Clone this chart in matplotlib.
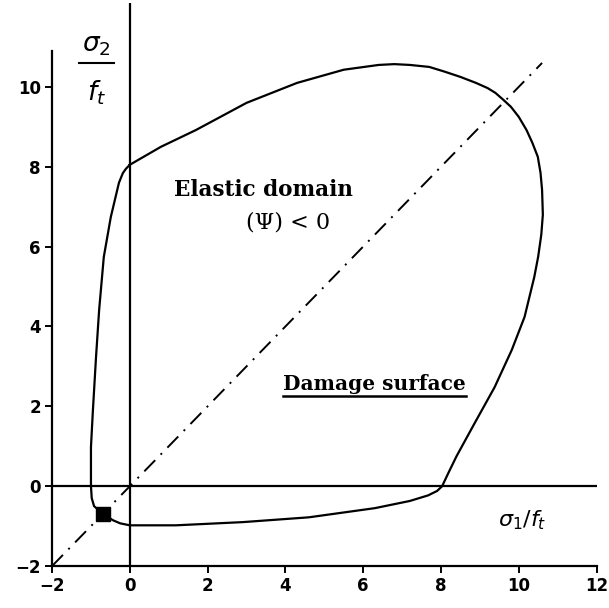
import matplotlib
matplotlib.use("Agg")
import matplotlib.pyplot as plt
import numpy as np

# damage surface (sigma1/ft, sigma2/ft), clockwise from (0, 8)
surf_x = [0.0, 0.8, 1.7, 3.0, 4.3, 5.5, 6.4, 6.8, 7.2, 7.7, 8.1, 8.5, 8.9, 9.2, 9.4,
          9.6, 9.8, 10.0, 10.2, 10.35, 10.49, 10.56, 10.6, 10.62, 10.58, 10.5,
          10.4, 10.15, 9.82, 9.38, 8.85, 8.4, 8.2, 8.03, 7.9, 7.67, 7.2, 6.3, 4.6,
          2.9, 1.18, 0.0, -0.25, -0.44, -0.69, -0.8, -0.92, -0.98, -1.0, -1.0,
          -0.95, -0.87, -0.79, -0.67, -0.49, -0.28, -0.18, -0.1, 0.0]
surf_y = [8.05, 8.5, 8.92, 9.6, 10.1, 10.43, 10.55, 10.57, 10.55, 10.5, 10.38, 10.25,
          10.1, 9.97, 9.85, 9.68, 9.5, 9.25, 8.92, 8.6, 8.25, 7.85, 7.42, 6.8, 6.3,
          5.75, 5.24, 4.24, 3.41, 2.48, 1.55, 0.75, 0.35, 0.0, -0.12, -0.23, -0.37,
          -0.55, -0.78, -0.9, -0.98, -0.98, -0.93, -0.85, -0.69, -0.6, -0.5, -0.3,
          0.0, 0.98, 1.9, 3.23, 4.41, 5.74, 6.74, 7.6, 7.84, 7.95, 8.05]

diag = [-2.0, 10.6]           # dash-dot line sigma1 = sigma2
point = (-0.7, -0.7)          # black square
xticks = [-2, 0, 2, 4, 6, 8, 10, 12]
yticks = [-2, 0, 2, 4, 6, 8, 10]

fig = plt.figure(figsize=(6.09, 6.08), dpi=100)
ax = fig.add_axes([0.0855, 0.069, 0.894, 0.926])

ax.plot(surf_x, surf_y, color='black', lw=1.6, solid_joinstyle='round')
ax.plot(diag, diag, color='black', lw=1.4, linestyle=(0, (8, 4, 1, 4)))
ax.axhline(0, color='black', lw=1.6)
ax.axvline(0, color='black', lw=1.6)
ax.plot(*point, marker='s', color='black', markersize=10)

ax.set_xlim(-2, 12)
ax.set_ylim(-2, 12.1)
ax.spines['top'].set_visible(False)
ax.spines['right'].set_visible(False)
ax.spines['left'].set_bounds(-2, 10.9)
for s in ['left', 'bottom']:
    ax.spines[s].set_linewidth(1.6)
ax.set_xticks(xticks)
ax.set_yticks(yticks)
ax.tick_params(direction='out', length=5, width=1.4, labelsize=12, pad=3)
for lab in ax.get_xticklabels() + ax.get_yticklabels():
    lab.set_fontweight('bold')

ax.text(3.43, 7.42, 'Elastic domain', fontsize=15.5, fontweight='bold',
        ha='center', va='center', family='DejaVu Serif')
ax.text(4.08, 6.6, '(Ψ) < 0', fontsize=16, ha='center', va='center',
        family='DejaVu Serif')
t = ax.text(6.3, 2.55, 'Damage surface', fontsize=14.5, fontweight='bold',
            ha='center', va='center', family='DejaVu Serif')

# sigma2 / ft written as a stacked fraction
ax.text(-0.85, 11.05, r'$\sigma_2$', fontsize=19, ha='center', va='center')
ax.plot([-1.31, -0.41], [10.6, 10.6], color='black', lw=1.5)
ax.text(-0.85, 9.85, r'$f_t$', fontsize=19, ha='center', va='center')
ax.text(10.1, -0.85, r'$\sigma_1/f_t$', fontsize=16, ha='center', va='center')

# underline the "Damage surface" label
fig.canvas.draw()
bb = t.get_window_extent().transformed(ax.transData.inverted())
ax.plot([bb.x0, bb.x1], [bb.y0 - 0.03, bb.y0 - 0.03], color='black', lw=1.8)

fig.savefig('out.png', dpi=100)
